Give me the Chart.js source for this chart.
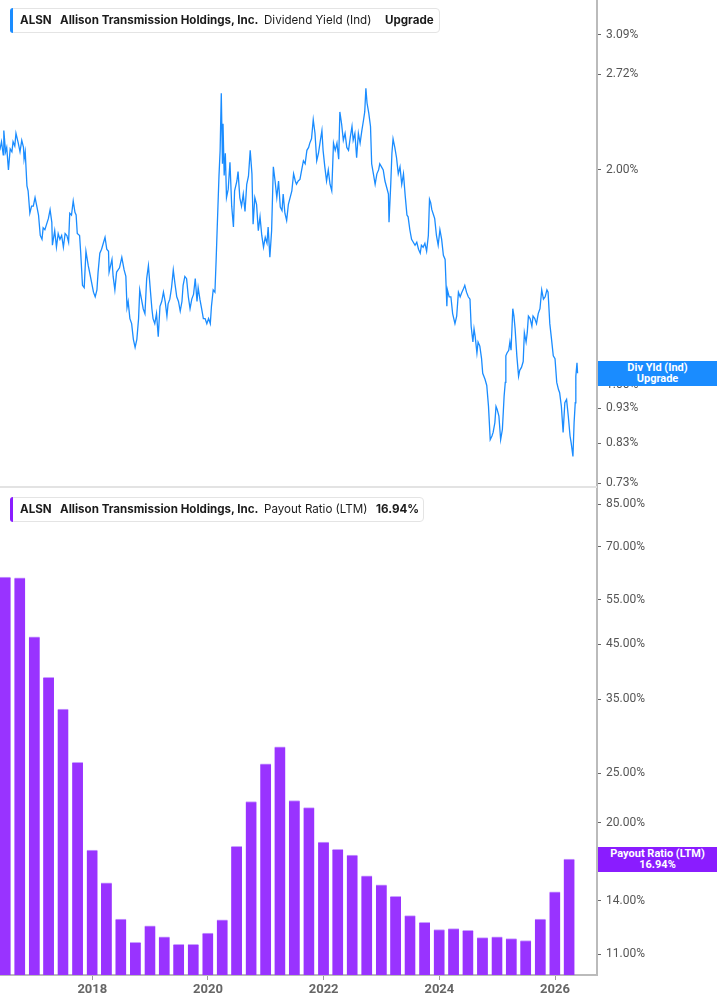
<!DOCTYPE html>
<html>
<head>
<meta charset="utf-8">
<script src="https://cdn.jsdelivr.net/npm/chart.js@4.4.1/dist/chart.umd.min.js"></script>
<style>
  body { margin: 0; background: #fff; }
  #wrap { position: relative; width: 717px; height: 1005px; overflow: hidden; font-family: Inter, "Noto Sans", sans-serif; }
  canvas { position: absolute; left: 0; }
  .legend { position: absolute; left: 10px; height: 23px; border: 1px solid #e4e4e4; border-radius: 4px; background: #fff; font-size: 11.6px; color: #1b1b1b; }
  .legend .accent { position: absolute; left: -1px; top: -1px; width: 3px; height: 25px; border-radius: 3px 0 0 3px; }
  .legend span { position: absolute; top: 0; line-height: 23px; white-space: nowrap; }
  .b { font-weight: 700; }
  .tag { position: absolute; left: 598px; width: 119px; height: 25px; color: #fff; font: bold 11px Roboto, sans-serif; text-align: center; line-height: 11.5px; padding-top: 1px; box-sizing: border-box; }
  .sep { position: absolute; left: 0; top: 486px; width: 597px; height: 2px; background: #e3e3e3; }
</style>
</head>
<body>
<div id="wrap">
  <canvas id="yieldChart" width="717" height="487" style="top:0"></canvas>
  <canvas id="payoutChart" width="717" height="518" style="top:487px"></canvas>
  <div class="sep"></div>

  <div class="legend" style="top:8px;width:428px">
    <div class="accent" style="background:#1a8cff"></div>
    <span class="b" style="left:9px">ALSN</span>
    <span class="b" style="left:49px">Allison Transmission Holdings, Inc.</span>
    <span style="left:253px">Dividend Yield (Ind)</span>
    <span class="b" style="left:374px">Upgrade</span>
  </div>
  <div class="legend" style="top:497px;width:412px">
    <div class="accent" style="background:#8a1cff"></div>
    <span class="b" style="left:9px">ALSN</span>
    <span class="b" style="left:49px">Allison Transmission Holdings, Inc.</span>
    <span style="left:253px">Payout Ratio (LTM)</span>
    <span class="b" style="left:365px">16.94%</span>
  </div>

  <div class="tag" id="yieldTag" style="background:#1a8cff">Div Yld (Ind)<br>Upgrade</div>
  <div class="tag" id="payoutTag" style="background:#8a1cff">Payout Ratio (LTM)<br>16.94%</div>
</div>

<script>
// dividend yield (Ind), % -- dates as decimal years
const yieldDates = [
  2016.40, 2016.43, 2016.46, 2016.47, 2016.50, 2016.52, 2016.55, 2016.58, 2016.61, 2016.63,
  2016.66, 2016.68, 2016.72, 2016.75, 2016.78, 2016.81, 2016.82, 2016.84, 2016.87, 2016.89,
  2016.92, 2016.95, 2016.98, 2017.01, 2017.04, 2017.07, 2017.10, 2017.13, 2017.15, 2017.18,
  2017.21, 2017.24, 2017.27, 2017.30, 2017.31, 2017.35, 2017.38, 2017.41, 2017.44, 2017.47,
  2017.50, 2017.53, 2017.56, 2017.59, 2017.61, 2017.64, 2017.67, 2017.70, 2017.72, 2017.74,
  2017.78, 2017.80, 2017.83, 2017.86, 2017.89, 2017.93, 2017.96, 2017.99, 2018.02, 2018.05,
  2018.08, 2018.10, 2018.13, 2018.16, 2018.19, 2018.22, 2018.25, 2018.28, 2018.29, 2018.34,
  2018.36, 2018.39, 2018.42, 2018.47, 2018.51, 2018.55, 2018.58, 2018.60, 2018.62, 2018.65,
  2018.68, 2018.71, 2018.74, 2018.77, 2018.80, 2018.82, 2018.85, 2018.88, 2018.91, 2018.94,
  2018.97, 2019.00, 2019.03, 2019.05, 2019.08, 2019.11, 2019.14, 2019.17, 2019.20, 2019.23,
  2019.26, 2019.29, 2019.31, 2019.34, 2019.37, 2019.40, 2019.43, 2019.46, 2019.49, 2019.52,
  2019.55, 2019.57, 2019.60, 2019.63, 2019.66, 2019.69, 2019.72, 2019.75, 2019.78, 2019.81,
  2019.83, 2019.86, 2019.89, 2019.92, 2019.95, 2019.98, 2020.01, 2020.04, 2020.06, 2020.09,
  2020.12, 2020.14, 2020.16, 2020.19, 2020.21, 2020.23, 2020.25, 2020.26, 2020.28, 2020.30,
  2020.32, 2020.35, 2020.38, 2020.41, 2020.44, 2020.46, 2020.50, 2020.52, 2020.55, 2020.58,
  2020.61, 2020.64, 2020.67, 2020.70, 2020.73, 2020.76, 2020.78, 2020.81, 2020.84, 2020.87,
  2020.90, 2020.93, 2020.96, 2020.99, 2021.02, 2021.04, 2021.07, 2021.10, 2021.13, 2021.16,
  2021.19, 2021.22, 2021.25, 2021.28, 2021.30, 2021.33, 2021.36, 2021.39, 2021.42, 2021.45,
  2021.48, 2021.51, 2021.53, 2021.56, 2021.59, 2021.62, 2021.65, 2021.68, 2021.71, 2021.74,
  2021.76, 2021.79, 2021.82, 2021.85, 2021.88, 2021.91, 2021.94, 2021.97, 2021.99, 2022.02,
  2022.05, 2022.08, 2022.11, 2022.14, 2022.17, 2022.20, 2022.23, 2022.26, 2022.28, 2022.31,
  2022.34, 2022.37, 2022.40, 2022.43, 2022.46, 2022.49, 2022.51, 2022.54, 2022.57, 2022.60,
  2022.63, 2022.66, 2022.69, 2022.71, 2022.73, 2022.75, 2022.78, 2022.81, 2022.83, 2022.86,
  2022.89, 2022.92, 2022.95, 2022.97, 2023.00, 2023.03, 2023.06, 2023.09, 2023.12, 2023.13,
  2023.16, 2023.18, 2023.20, 2023.23, 2023.26, 2023.29, 2023.32, 2023.35, 2023.38, 2023.41,
  2023.44, 2023.46, 2023.49, 2023.52, 2023.55, 2023.58, 2023.61, 2023.64, 2023.67, 2023.69,
  2023.72, 2023.75, 2023.78, 2023.81, 2023.83, 2023.85, 2023.87, 2023.90, 2023.92, 2023.95,
  2023.98, 2024.01, 2024.04, 2024.07, 2024.10, 2024.13, 2024.14, 2024.17, 2024.20, 2024.23,
  2024.27, 2024.30, 2024.33, 2024.36, 2024.39, 2024.41, 2024.44, 2024.47, 2024.50, 2024.53,
  2024.55, 2024.58, 2024.60, 2024.62, 2024.65, 2024.67, 2024.70, 2024.73, 2024.75, 2024.79,
  2024.82, 2024.85, 2024.88, 2024.91, 2024.93, 2024.96, 2024.98, 2025.00, 2025.03, 2025.06,
  2025.09, 2025.12, 2025.14, 2025.15, 2025.17, 2025.20, 2025.22, 2025.24, 2025.27, 2025.29,
  2025.31, 2025.34, 2025.37, 2025.39, 2025.42, 2025.45, 2025.47, 2025.50, 2025.52, 2025.54,
  2025.57, 2025.60, 2025.62, 2025.65, 2025.68, 2025.71, 2025.74, 2025.77, 2025.80, 2025.83,
  2025.86, 2025.88, 2025.91, 2025.94, 2025.97, 2026.00, 2026.03, 2026.06, 2026.08, 2026.11,
  2026.14, 2026.17, 2026.20, 2026.23, 2026.26, 2026.28, 2026.31, 2026.33, 2026.35, 2026.36,
  2026.38, 2026.39
];
const yieldValues = [
  2.13, 2.19, 2.10, 2.27, 2.12, 2.15, 2.00, 2.14, 2.12, 2.19,
  2.16, 2.25, 2.18, 2.12, 2.20, 2.15, 2.07, 2.12, 1.90, 1.87,
  1.74, 1.78, 1.78, 1.83, 1.78, 1.73, 1.62, 1.60, 1.66, 1.65,
  1.68, 1.71, 1.76, 1.69, 1.57, 1.645, 1.56, 1.63, 1.60, 1.62,
  1.56, 1.63, 1.62, 1.585, 1.74, 1.73, 1.81, 1.745, 1.73, 1.63,
  1.62, 1.53, 1.38, 1.37, 1.54, 1.47, 1.43, 1.39, 1.35, 1.33,
  1.36, 1.44, 1.53, 1.55, 1.58, 1.61, 1.55, 1.54, 1.44, 1.50,
  1.42, 1.36, 1.44, 1.46, 1.51, 1.45, 1.42, 1.285, 1.31, 1.24,
  1.22, 1.16, 1.13, 1.16, 1.24, 1.36, 1.32, 1.28, 1.26, 1.41,
  1.47, 1.37, 1.28, 1.24, 1.22, 1.26, 1.17, 1.29, 1.31, 1.35,
  1.31, 1.25, 1.30, 1.32, 1.37, 1.45, 1.385, 1.33, 1.31, 1.27,
  1.31, 1.38, 1.42, 1.41, 1.33, 1.28, 1.32, 1.34, 1.41, 1.31,
  1.37, 1.32, 1.28, 1.24, 1.24, 1.22, 1.24, 1.22, 1.29, 1.36,
  1.35, 1.49, 1.665, 1.96, 2.13, 2.56, 2.04, 2.32, 1.965, 2.11,
  1.83, 1.88, 2.05, 1.78, 1.665, 1.87, 1.93, 1.99, 1.83, 1.78,
  1.85, 1.75, 1.91, 1.96, 2.13, 1.975, 1.68, 1.83, 1.79, 1.645,
  1.72, 1.62, 1.56, 1.61, 1.58, 1.665, 1.51, 1.645, 2.02, 1.93,
  1.83, 1.93, 1.775, 1.755, 1.85, 1.74, 1.70, 1.79, 1.83, 1.87,
  1.975, 1.93, 1.91, 1.93, 1.94, 2.00, 2.06, 2.04, 2.13, 2.15,
  2.18, 2.21, 2.35, 2.25, 2.06, 2.11, 2.19, 2.27, 2.13, 2.02,
  1.93, 2.00, 1.91, 1.87, 2.18, 2.13, 2.18, 2.07, 2.41, 2.32,
  2.20, 2.25, 2.15, 2.13, 2.22, 2.30, 2.20, 2.25, 2.08, 2.25,
  2.18, 2.27, 2.35, 2.41, 2.60, 2.48, 2.40, 2.30, 2.04, 1.975,
  1.91, 1.975, 2.00, 2.04, 2.02, 2.00, 1.93, 1.89, 1.85, 1.69,
  1.91, 2.11, 2.21, 2.15, 2.08, 1.975, 2.02, 1.91, 1.975, 1.84,
  1.73, 1.72, 1.65, 1.60, 1.585, 1.57, 1.585, 1.55, 1.53, 1.57,
  1.56, 1.58, 1.54, 1.62, 1.82, 1.80, 1.76, 1.73, 1.71, 1.62,
  1.57, 1.65, 1.60, 1.52, 1.50, 1.29, 1.36, 1.33, 1.33, 1.26,
  1.22, 1.25, 1.35, 1.33, 1.35, 1.36, 1.38, 1.35, 1.33, 1.32,
  1.21, 1.15, 1.20, 1.17, 1.11, 1.15, 1.135, 1.09, 1.04, 1.02,
  1.00, 0.935, 0.84, 0.85, 0.86, 0.887, 0.935, 0.926, 0.906, 0.84,
  0.868, 0.966, 1.01, 1.10, 1.11, 1.12, 1.15, 1.12, 1.28, 1.25,
  1.20, 1.10, 1.03, 1.05, 1.06, 1.08, 1.185, 1.15, 1.185, 1.25,
  1.24, 1.21, 1.25, 1.24, 1.22, 1.26, 1.28, 1.36, 1.32, 1.33,
  1.36, 1.35, 1.22, 1.16, 1.10, 1.09, 1.01, 0.987, 0.977, 0.935,
  0.86, 0.946, 0.956, 0.905, 0.85, 0.831, 0.796, 0.887, 0.946, 1.03,
  1.076, 1.04
];

// payout ratio (LTM), %, quarterly
const payoutDates = [
  '2016-06-30', '2016-09-30', '2016-12-31', '2017-03-31', '2017-06-30', '2017-09-30', '2017-12-31',
  '2018-03-31', '2018-06-30', '2018-09-30', '2018-12-31', '2019-03-31', '2019-06-30', '2019-09-30',
  '2019-12-31', '2020-03-31', '2020-06-30', '2020-09-30', '2020-12-31', '2021-03-31', '2021-06-30',
  '2021-09-30', '2021-12-31', '2022-03-31', '2022-06-30', '2022-09-30', '2022-12-31', '2023-03-31',
  '2023-06-30', '2023-09-30', '2023-12-31', '2024-03-31', '2024-06-30', '2024-09-30', '2024-12-31',
  '2025-03-31', '2025-06-30', '2025-09-30', '2025-12-31', '2026-03-31'
];
const payoutValues = [
  61.0, 60.8, 46.5, 38.7, 33.5, 26.3, 17.65,
  15.2, 12.9, 11.6, 12.5, 11.9, 11.5, 11.5,
  12.1, 12.85, 17.95, 22.0, 26.1, 28.2, 22.1,
  21.4, 18.3, 17.7, 17.25, 15.7, 15.06, 14.3,
  13.1, 12.7, 12.3, 12.35, 12.25, 11.85, 11.9,
  11.8, 11.7, 12.9, 14.6, 16.94
];

const yieldTicks = [3.09, 2.72, 2.00, 1.00, 0.93, 0.83, 0.73];
const payoutTicks = [85, 70, 55, 45, 35, 25, 20, 17, 14, 11];
const yearTicks = [2018, 2020, 2022, 2024, 2026];

const X_MIN = 2016.404;
const X_MAX = 2026.726;

Chart.defaults.font.family = 'Roboto';

function toYear(s) {
  const d = new Date(s + 'T00:00:00Z');
  const y = d.getUTCFullYear();
  const a = Date.UTC(y, 0, 1), b = Date.UTC(y + 1, 0, 1);
  return y + (d.getTime() - a) / (b - a);
}

function noPad(s) {
  s.paddingTop = 0; s.paddingBottom = 0; s.paddingLeft = 0; s.paddingRight = 0;
}

function xAxis(show) {
  return {
    type: 'linear', display: show, min: X_MIN, max: X_MAX, bounds: 'data', offset: false,
    afterBuildTicks: s => { s.ticks = yearTicks.map(v => ({ value: v })); },
    afterFit: s => { s.height = show ? 30 : 0; noPad(s); },
    grid: { drawOnChartArea: false, drawTicks: true, tickLength: 5, tickColor: '#999', offset: false },
    border: { color: '#bbb', width: 2 },
    ticks: { color: '#666', font: { size: 13, weight: 'bold' }, padding: 2, maxRotation: 0, autoSkip: false,
             callback: v => String(v) }
  };
}

function yAxis(min, max, list) {
  return {
    type: 'logarithmic', position: 'right', min: min, max: max, bounds: 'data',
    afterBuildTicks: s => { s.ticks = list.map(v => ({ value: v })); },
    afterFit: s => { s.width = 120; noPad(s); },
    grid: { drawOnChartArea: false, drawTicks: true, tickLength: 4, tickColor: '#666' },
    border: { color: '#bbb', width: 2 },
    ticks: { color: '#555', font: { size: 12 }, padding: 5, autoSkip: false,
             callback: v => Number(v).toFixed(2) + '%' }
  };
}

const common = {
  responsive: false,
  animation: false,
  events: [],
  plugins: { legend: { display: false }, tooltip: { enabled: false } }
};

const yieldChart = new Chart(document.getElementById('yieldChart'), {
  type: 'line',
  data: {
    datasets: [{
      data: yieldDates.map((x, i) => ({ x: x, y: yieldValues[i] })),
      borderColor: '#1a8cff',
      borderWidth: 1.3,
      pointRadius: 0,
      tension: 0
    }]
  },
  options: Object.assign({}, common, {
    layout: { padding: 0 },
    scales: {
      x: xAxis(false),
      y: yAxis(0.7215, 3.454, yieldTicks)
    }
  })
});

const payoutChart = new Chart(document.getElementById('payoutChart'), {
  type: 'bar',
  data: {
    datasets: [{
      data: payoutDates.map((d, i) => ({ x: toYear(d), y: payoutValues[i] })),
      backgroundColor: '#9933ff',
      borderColor: '#c9a0ff',
      borderWidth: { top: 1, left: 0, right: 0, bottom: 0 },
      barThickness: 10.8
    }]
  },
  options: Object.assign({}, common, {
    layout: { padding: { top: 1, left: 0, right: 0, bottom: 0 } },
    scales: {
      x: xAxis(true),
      y: yAxis(10, 91.49, payoutTicks)
    }
  })
});

// place the right-hand value tags on the last values
const yTagTop = yieldChart.scales.y.getPixelForValue(yieldValues[yieldValues.length - 1]);
document.getElementById('yieldTag').style.top = (yTagTop - 12.5) + 'px';
const pTagTop = payoutChart.scales.y.getPixelForValue(payoutValues[payoutValues.length - 1]);
document.getElementById('payoutTag').style.top = (487 + pTagTop - 12.5) + 'px';
</script>
</body>
</html>
